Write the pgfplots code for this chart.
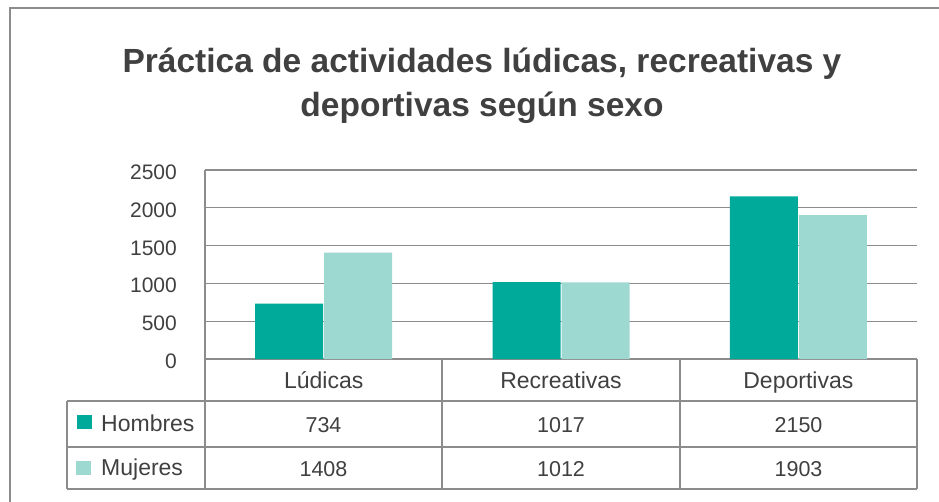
\documentclass[border=0pt]{standalone}
\usepackage{fontspec}
\setmainfont{Liberation Sans}
\usepackage{pgfplots}
\pgfplotsset{compat=1.18}
\definecolor{hombres}{HTML}{00AA9A}
\definecolor{mujeres}{HTML}{9DD8D1}
\definecolor{txt}{HTML}{404040}
\definecolor{rule}{HTML}{8C8C8C}

\begin{document}
\begin{tikzpicture}[x=1pt,y=1pt]
% outer frame (cut by the page on the right and bottom)
\draw[rule, line width=2pt] (10,-20) -- (10,493) -- (960,493);
\begin{scope}[txt, font=\bfseries\fontsize{33.5}{40}\selectfont, inner sep=0pt]
  \node[anchor=base] at (482,428) {Práctica de actividades lúdicas, recreativas y};
  \node[anchor=base] at (482,384) {deportivas según sexo};
\end{scope}
\begin{axis}[
  at={(205pt,142pt)}, anchor=south west,
  scale only axis, width=712pt, height=189pt,
  ybar=1pt, bar width=68pt,
  xmin=-0.5, xmax=2.5, ymin=0, ymax=2500,
  ytick={0,500,...,2500},
  xtick={0,1,2}, xticklabels={Lúdicas,Recreativas,Deportivas},
  major tick length=0pt,
  axis x line*=bottom, axis y line*=left,
  ymajorgrids, grid style={rule, line width=1.2pt},
  axis line style={rule, line width=1.2pt},
  tick label style={txt, inner sep=0pt},
  /pgf/number format/assume math mode=true,
  /pgf/number format/1000 sep={},
  yticklabel style={font=\fontsize{21}{24}\selectfont, anchor=base east, xshift=-28pt, yshift=-9.5pt},
  xticklabel style={font=\fontsize{23}{26}\selectfont, anchor=base, yshift=-29pt},
]
\addplot[fill=hombres, draw=none] coordinates {(0,734) (1,1017) (2,2150)};
\addplot[fill=mujeres, draw=none] coordinates {(0,1408) (1,1012) (2,1903)};
\end{axis}
% data table under the chart
\begin{scope}[rule, line width=1.2pt]
  \draw (67,100) -- (917,100);
  \draw (67,54) -- (917,54);
  \draw (67,12) -- (917,12);
  \draw (67,100) -- (67,12);
  \foreach \x in {205,442,680,917} \draw (\x,142) -- (\x,12);
\end{scope}
\fill[hombres] (77,72) rectangle (92,86);
\fill[mujeres] (76,26) rectangle (91,40);
\begin{scope}[txt, font=\fontsize{23}{26}\selectfont, inner sep=0pt]
  \node[anchor=base west] at (101,70) {Hombres};
  \node[anchor=base west] at (101,26) {Mujeres};
\end{scope}
\begin{scope}[txt, font=\fontsize{21.5}{26}\selectfont, inner sep=0pt]
  \node[anchor=base] at (323.5,69) {734};
  \node[anchor=base] at (561,69) {1017};
  \node[anchor=base] at (798.5,69) {2150};
  \node[anchor=base] at (323.5,25) {1408};
  \node[anchor=base] at (561,25) {1012};
  \node[anchor=base] at (798.5,25) {1903};
\end{scope}
\pgfresetboundingbox
\path[use as bounding box] (0,0) rectangle (939,501);
\end{tikzpicture}
\end{document}
